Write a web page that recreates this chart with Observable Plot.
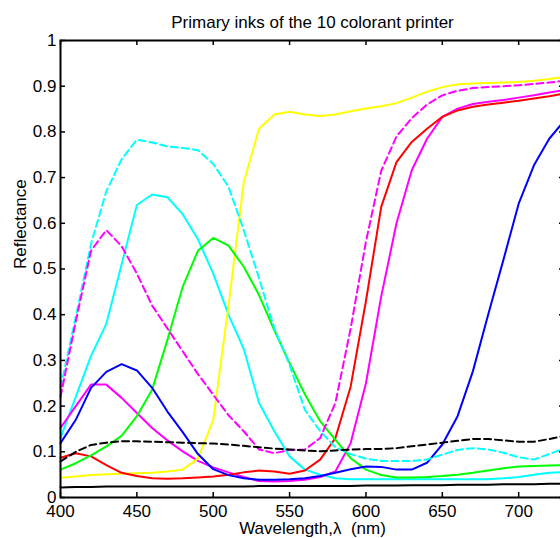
<!DOCTYPE html>
<html><head><meta charset="utf-8">
<script src="https://cdn.jsdelivr.net/npm/d3@7"></script>
<script src="https://cdn.jsdelivr.net/npm/@observablehq/plot@0.6"></script>
<style>html,body{margin:0;padding:0;overflow:hidden;background:#fff} #chart svg{max-width:none !important;width:566px !important;height:538px !important}</style>
</head><body><div id="chart"></div>
<script>
const wavelength = [400,410,420,430,440,450,460,470,480,490,500,510,520,530,540,550,560,570,580,590,600,610,620,630,640,650,660,670,680,690,700,710,720,730];

const yellow = [0.043,0.046,0.049,0.051,0.052,0.053,0.054,0.057,0.061,0.085,0.17,0.42,0.69,0.807,0.838,0.844,0.838,0.835,0.838,0.845,0.851,0.856,0.863,0.875,0.888,0.898,0.904,0.906,0.907,0.908,0.909,0.912,0.916,0.92];
const magentaDashed = [0.22,0.385,0.54,0.585,0.55,0.49,0.42,0.37,0.32,0.27,0.225,0.18,0.145,0.105,0.097,0.104,0.105,0.13,0.207,0.37,0.56,0.715,0.79,0.83,0.86,0.88,0.89,0.896,0.898,0.9,0.902,0.905,0.908,0.912];
const red = [0.087,0.097,0.09,0.071,0.054,0.047,0.042,0.041,0.042,0.044,0.046,0.05,0.055,0.059,0.057,0.052,0.059,0.083,0.13,0.243,0.43,0.636,0.734,0.778,0.807,0.833,0.847,0.855,0.86,0.864,0.868,0.873,0.878,0.884];
const magenta = [0.152,0.2,0.247,0.247,0.218,0.185,0.152,0.125,0.101,0.08,0.066,0.055,0.045,0.036,0.035,0.036,0.039,0.045,0.057,0.119,0.25,0.44,0.60,0.716,0.785,0.833,0.851,0.861,0.866,0.87,0.875,0.88,0.886,0.892];
const blue = [0.119,0.17,0.24,0.275,0.292,0.278,0.24,0.188,0.143,0.095,0.062,0.049,0.042,0.039,0.039,0.04,0.042,0.047,0.054,0.062,0.068,0.067,0.061,0.061,0.076,0.116,0.178,0.276,0.40,0.52,0.643,0.727,0.785,0.825];
const blackDashed = [0.079,0.10,0.115,0.12,0.123,0.123,0.122,0.121,0.12,0.119,0.118,0.116,0.113,0.11,0.107,0.105,0.103,0.101,0.103,0.105,0.106,0.106,0.108,0.112,0.116,0.12,0.124,0.128,0.128,0.125,0.122,0.122,0.128,0.135];
const cyanDashed = [0.24,0.395,0.555,0.67,0.74,0.783,0.777,0.768,0.765,0.76,0.73,0.68,0.585,0.48,0.37,0.29,0.192,0.145,0.11,0.095,0.085,0.08,0.08,0.08,0.083,0.094,0.104,0.108,0.105,0.098,0.088,0.083,0.095,0.108];
const cyan = [0.13,0.22,0.31,0.38,0.51,0.64,0.663,0.657,0.62,0.565,0.49,0.40,0.325,0.207,0.145,0.09,0.061,0.05,0.042,0.04,0.04,0.04,0.04,0.04,0.04,0.04,0.04,0.04,0.04,0.042,0.045,0.05,0.054,0.056];
const green = [0.061,0.075,0.092,0.112,0.135,0.178,0.236,0.345,0.461,0.54,0.568,0.551,0.505,0.443,0.366,0.294,0.226,0.167,0.126,0.086,0.061,0.049,0.044,0.044,0.045,0.047,0.05,0.054,0.059,0.064,0.068,0.069,0.07,0.071];
const black = [0.022,0.023,0.023,0.024,0.024,0.024,0.024,0.024,0.024,0.024,0.024,0.024,0.024,0.025,0.025,0.025,0.025,0.025,0.025,0.025,0.026,0.026,0.026,0.027,0.027,0.027,0.028,0.028,0.028,0.029,0.029,0.029,0.03,0.03];

const xTicks = [400,450,500,550,600,650,700];
const yTicks = [0,0.1,0.2,0.3,0.4,0.5,0.6,0.7,0.8,0.9,1];

const titleText = "Primary inks of the 10 colorant printer";
const xLabel = "Wavelength,\u03bb\u00a0 (nm)";
const yLabel = "Reflectance";

const series = [
  {values: black, color: "#000000", dash: null},
  {values: cyan, color: "#00ffff", dash: null},
  {values: magenta, color: "#ff00ff", dash: null},
  {values: yellow, color: "#ffff00", dash: null},
  {values: red, color: "#ff0000", dash: null},
  {values: green, color: "#00ff00", dash: null},
  {values: blue, color: "#0000ff", dash: null},
  {values: cyanDashed, color: "#00ffff", dash: "7,4"},
  {values: magentaDashed, color: "#ff00ff", dash: "7,4"},
  {values: blackDashed, color: "#000000", dash: "7,4"}
];

const W = 566, H = 538, mL = 60, mR = 2, mT = 40, mB = 41;
const plotW = W - mL - mR, plotH = H - mT - mB;
const tick = 5;

const lineMarks = series.map(s => Plot.line(
  wavelength.map((w, i) => ({w, r: s.values[i]})),
  {x: "w", y: "r", stroke: s.color, strokeWidth: 2, strokeDasharray: s.dash, strokeLinejoin: "round"}
));

const chart = Plot.plot({
  width: W, height: H,
  marginLeft: mL, marginRight: mR, marginTop: mT, marginBottom: mB,
  style: {fontFamily: "'Liberation Sans', Arial, sans-serif", background: "#fff", overflow: "visible", maxWidth: "none"},
  x: {domain: [400, 730]},
  y: {domain: [0, 1]},
  marks: [
    ...lineMarks,
    Plot.frame({stroke: "black", strokeWidth: 2}),
    Plot.tickX(xTicks, {x: d => d, insetTop: plotH - tick, stroke: "black", strokeWidth: 1.5}),
    Plot.tickX(xTicks, {x: d => d, insetBottom: plotH - tick, stroke: "black", strokeWidth: 1.5}),
    Plot.tickY(yTicks, {y: d => d, insetRight: plotW - tick, stroke: "black", strokeWidth: 1.5}),
    Plot.tickY(yTicks, {y: d => d, insetLeft: plotW - tick, stroke: "black", strokeWidth: 1.5}),
    Plot.axisX({ticks: xTicks, tickSize: 0, tickPadding: 7, fontSize: 17, label: null, tickFormat: d => String(d)}),
    Plot.axisY({ticks: yTicks, tickSize: 0, tickPadding: 4, fontSize: 17, label: null, tickFormat: d => String(d)}),
    Plot.text([titleText], {text: d => d, frameAnchor: "top", dy: -18, fontSize: 17, lineAnchor: "middle"}),
    Plot.text([xLabel], {text: d => d, frameAnchor: "bottom", dy: 31, fontSize: 17, lineAnchor: "middle"}),
    Plot.text([yLabel], {text: d => d, frameAnchor: "left", dx: -40, rotate: -90, fontSize: 17, lineAnchor: "middle"})
  ]
});
document.getElementById("chart").appendChild(chart);
</script>
</body></html>
